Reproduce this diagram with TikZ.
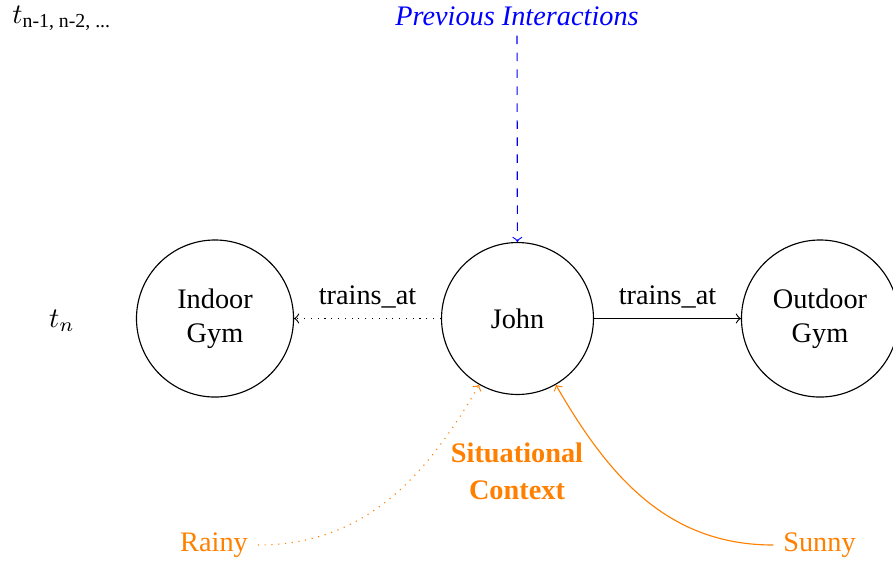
\documentclass[tikz,border=0pt]{standalone}
\usepackage{amsmath}
\usepackage{fontspec}
\setmainfont{Liberation Serif}
\begin{document}
\begin{tikzpicture}[x=0.3534pt,y=-0.3534pt,
  entity/.style={draw,circle,align=center,inner sep=0pt},
  ctx/.style={text=orange},
  link/.style={->}]
\useasboundingbox (0,0) rectangle (893,563);

% time steps
\node (tprev) at (62,18) {$t_{\text{n-1, n-2, ...}}$};
\node (tnow)  at (62,321) {$t_n$};

% entities
\node[entity,minimum size=55.5pt] (indoor)  at (215,318.5) {Indoor\\Gym};
\node[entity,minimum size=53.7pt] (john)    at (517.5,318.5) {John};
\node[entity,minimum size=55.5pt] (outdoor) at (820,318.5) {Outdoor\\Gym};

% history
\node[text=blue,font=\itshape] (prev) at (517,16) {Previous Interactions};
\draw[link,blue,dashed] (prev) -- (john);

% relations
\draw[link,dotted] (john) -- node[above] {trains\_at} (indoor);
\draw[link] (john) -- node[above] {trains\_at} (outdoor);

% situational context
\node[ctx,font=\bfseries,align=center] (sit) at (517,471) {Situational\\[1pt]Context};
\node[ctx] (rainy) at (214,545) {Rainy};
\node[ctx] (sunny) at (819.5,545) {Sunny};
\draw[link,orange,dotted] (rainy) to[out=0,in=-120] (john);
\draw[link,orange] (sunny) to[out=180,in=-60] (john);
\end{tikzpicture}
\end{document}
